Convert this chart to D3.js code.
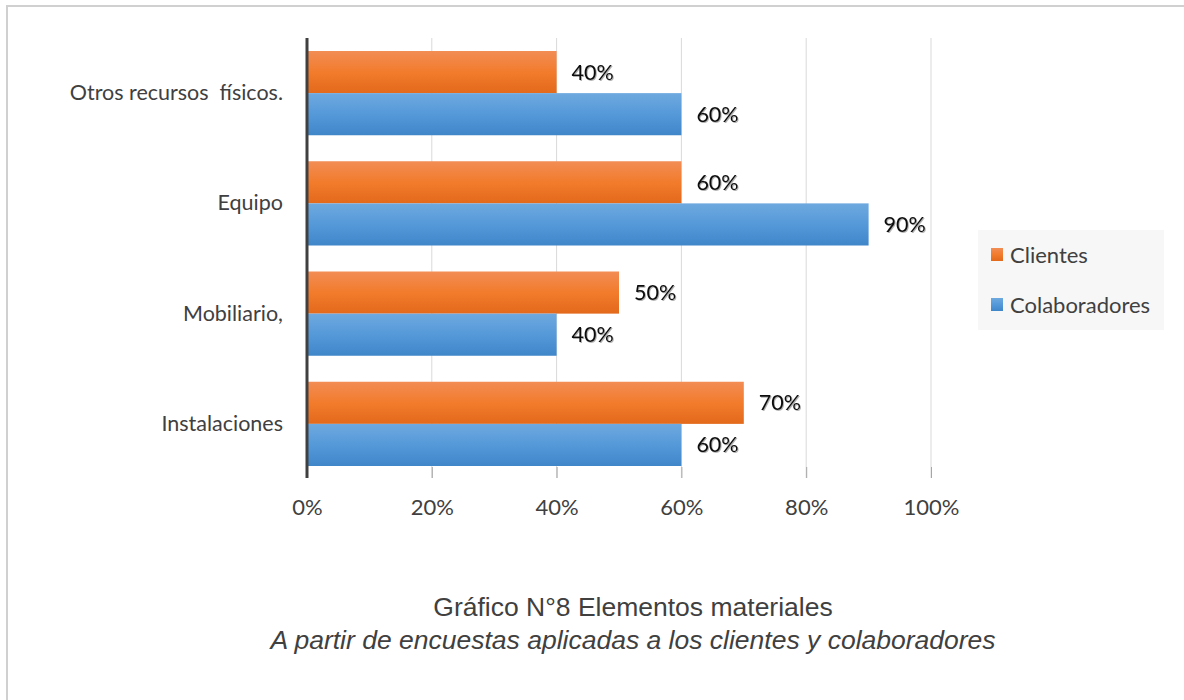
<!DOCTYPE html>
<html><head><meta charset="utf-8">
<script src="https://cdn.jsdelivr.net/npm/d3@7"></script>
<style>
html,body{margin:0;padding:0;background:#fff;}
svg{display:block;}
text{white-space:pre;}
</style></head>
<body>
<svg id="chart" width="1184" height="700"></svg>
<script>
const categories = ["Otros recursos  físicos.", "Equipo", "Mobiliario,", "Instalaciones"];
const seriesNames = ["Clientes", "Colaboradores"];
const clientes = [0.40, 0.60, 0.50, 0.70];
const colaboradores = [0.60, 0.90, 0.40, 0.60];
const tickValues = [0, 0.2, 0.4, 0.6, 0.8, 1.0];
const titleText = "Gráfico N°8 Elementos materiales";
const subtitleText = "A partir de encuestas aplicadas a los clientes y colaboradores";

const svg = d3.select("#chart");
const labelFont = "Lato, 'Open Sans', sans-serif";

// border
svg.append("path").attr("d", "M7,700 V6 H1184").attr("fill", "none")
  .attr("stroke", "#d0d0d0").attr("stroke-width", 2);

const defs = svg.append("defs");
const gO = defs.append("linearGradient").attr("id", "gO").attr("x1", 0).attr("y1", 0).attr("x2", 0).attr("y2", 1);
gO.append("stop").attr("offset", "0%").attr("stop-color", "#f28d55");
gO.append("stop").attr("offset", "50%").attr("stop-color", "#f27b2c");
gO.append("stop").attr("offset", "100%").attr("stop-color", "#e3691b");
const gB = defs.append("linearGradient").attr("id", "gB").attr("x1", 0).attr("y1", 0).attr("x2", 0).attr("y2", 1);
gB.append("stop").attr("offset", "0%").attr("stop-color", "#6ea9df");
gB.append("stop").attr("offset", "50%").attr("stop-color", "#5599d9");
gB.append("stop").attr("offset", "100%").attr("stop-color", "#3f86c9");
const shadow = defs.append("filter").attr("id", "ts").attr("x", "-20%").attr("y", "-20%").attr("width", "140%").attr("height", "140%");
shadow.append("feDropShadow").attr("dx", 1).attr("dy", 1).attr("stdDeviation", 0.6).attr("flood-color", "#000").attr("flood-opacity", 0.3);

const x = d3.scaleLinear().domain([0, 1]).range([307, 931]);
const y = d3.scaleBand().domain(categories).range([38, 479]).paddingInner(26/110.25).paddingOuter(13/110.25);
const sub = d3.scaleBand().domain(seriesNames).range([0, y.bandwidth()]);

// gridlines
svg.append("g").selectAll("line").data(tickValues.slice(1)).join("line")
  .attr("x1", d => x(d)).attr("x2", d => x(d)).attr("y1", 38).attr("y2", 478)
  .attr("stroke", "#d9d9d9").attr("stroke-width", 1);

// x axis
const xAxis = d3.axisBottom(x).tickValues(tickValues).tickFormat(d3.format(".0%")).tickSize(11).tickPadding(21);
const gx = svg.append("g").attr("transform", "translate(0,467)").call(xAxis);
gx.select(".domain").remove();
gx.selectAll(".tick line").attr("stroke", "#a6a6a6");
gx.selectAll(".tick text").attr("fill", "#404040").attr("font-size", 22).attr("font-family", labelFont);

// bars
const data = categories.map((c, i) => ({cat: c, vals: [
  {s: "Clientes", v: clientes[i], fill: "url(#gO)"},
  {s: "Colaboradores", v: colaboradores[i], fill: "url(#gB)"}
]}));
const groups = svg.append("g").selectAll("g").data(data).join("g")
  .attr("transform", d => `translate(0,${y(d.cat)})`);
groups.selectAll("rect").data(d => d.vals).join("rect")
  .attr("x", x(0)).attr("y", d => sub(d.s)).attr("width", d => x(d.v) - x(0))
  .attr("height", sub.bandwidth()).attr("fill", d => d.fill);
groups.selectAll("text").data(d => d.vals).join("text")
  .attr("x", d => x(d.v) + 15).attr("y", d => sub(d.s) + sub.bandwidth() / 2)
  .attr("dy", "0.35em").attr("font-size", 21.5).attr("font-family", labelFont)
  .attr("fill", "#111").attr("filter", "url(#ts)")
  .text(d => d3.format(".0%")(d.v));

// y axis line
svg.append("line").attr("x1", 307).attr("x2", 307).attr("y1", 38).attr("y2", 478)
  .attr("stroke", "#404040").attr("stroke-width", 3);

// category labels
const yAxis = d3.axisLeft(y).tickSize(0).tickPadding(24);
const gy = svg.append("g").attr("transform", "translate(307,0)").call(yAxis);
gy.select(".domain").remove();
gy.selectAll(".tick text").attr("fill", "#404040").attr("font-size", 21.5).attr("font-family", labelFont)
  .attr("xml:space", "preserve");

// legend
const lg = svg.append("g");
lg.append("rect").attr("x", 978).attr("y", 230).attr("width", 186).attr("height", 100).attr("fill", "#f7f7f7");
const li = lg.selectAll("g").data([{n: "Clientes", f: "url(#gO)"}, {n: "Colaboradores", f: "url(#gB)"}]).join("g")
  .attr("transform", (d, i) => `translate(991,${248 + i * 50})`);
li.append("rect").attr("width", 12).attr("height", 13).attr("fill", d => d.f);
li.append("text").attr("x", 19).attr("y", 7).attr("dy", "0.35em").attr("font-size", 22)
  .attr("font-family", labelFont).attr("fill", "#404040").text(d => d.n);

// titles
svg.append("text").attr("x", 633).attr("y", 616).attr("text-anchor", "middle")
  .attr("font-family", "'Liberation Sans', Arial, sans-serif").attr("font-size", 26.5).attr("fill", "#404040").text(titleText);
svg.append("text").attr("x", 633).attr("y", 649).attr("text-anchor", "middle")
  .attr("font-family", "'Liberation Sans', Arial, sans-serif").attr("font-style", "italic").attr("font-size", 26.5).attr("fill", "#404040").text(subtitleText);
</script>
</body></html>
